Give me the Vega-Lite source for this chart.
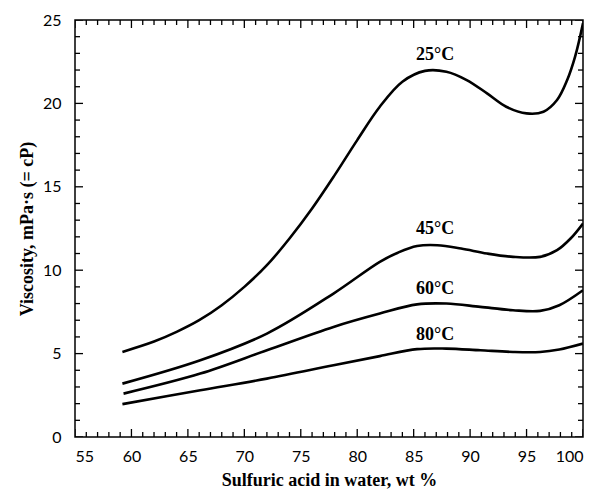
{
  "$schema": "https://vega.github.io/schema/vega-lite/v6.json",
  "width": 508,
  "height": 417,
  "autosize": {"type": "none"},
  "padding": {"left": 75, "top": 20, "right": 22, "bottom": 65},
  "background": "white",
  "config": {
    "view": {"stroke": "black", "strokeWidth": 1.5},
    "axis": {"domain": false, "ticks": false, "grid": false, "labelColor": "black", "titleColor": "black", "labelFont": "Lato", "titleFont": "Liberation Serif", "labelFontSize": 16, "titleFontSize": 18, "titleFontWeight": "bold"}
  },
  "datasets": {
    "curves": [
      {"temp": "25°C", "wt": 59.2, "visc": 5.1},
      {"temp": "25°C", "wt": 62.0, "visc": 5.72},
      {"temp": "25°C", "wt": 64.0, "visc": 6.3},
      {"temp": "25°C", "wt": 66.0, "visc": 7.0},
      {"temp": "25°C", "wt": 68.0, "visc": 7.9},
      {"temp": "25°C", "wt": 70.0, "visc": 9.0},
      {"temp": "25°C", "wt": 72.0, "visc": 10.3},
      {"temp": "25°C", "wt": 74.0, "visc": 11.9},
      {"temp": "25°C", "wt": 76.0, "visc": 13.7},
      {"temp": "25°C", "wt": 78.0, "visc": 15.7},
      {"temp": "25°C", "wt": 80.0, "visc": 17.8},
      {"temp": "25°C", "wt": 82.0, "visc": 19.8},
      {"temp": "25°C", "wt": 84.0, "visc": 21.3},
      {"temp": "25°C", "wt": 86.0, "visc": 21.95},
      {"temp": "25°C", "wt": 87.9, "visc": 21.9},
      {"temp": "25°C", "wt": 89.7, "visc": 21.4},
      {"temp": "25°C", "wt": 91.5, "visc": 20.6},
      {"temp": "25°C", "wt": 93.2, "visc": 19.8},
      {"temp": "25°C", "wt": 95.0, "visc": 19.4},
      {"temp": "25°C", "wt": 96.5, "visc": 19.5},
      {"temp": "25°C", "wt": 97.7, "visc": 20.2},
      {"temp": "25°C", "wt": 98.6, "visc": 21.4},
      {"temp": "25°C", "wt": 99.3, "visc": 22.8},
      {"temp": "25°C", "wt": 100.0, "visc": 24.8},
      {"temp": "45°C", "wt": 59.2, "visc": 3.2},
      {"temp": "45°C", "wt": 66.1, "visc": 4.6},
      {"temp": "45°C", "wt": 72.0, "visc": 6.2},
      {"temp": "45°C", "wt": 77.9, "visc": 8.6},
      {"temp": "45°C", "wt": 82.0, "visc": 10.5},
      {"temp": "45°C", "wt": 83.6, "visc": 11.05},
      {"temp": "45°C", "wt": 85.3, "visc": 11.45},
      {"temp": "45°C", "wt": 87.1, "visc": 11.5},
      {"temp": "45°C", "wt": 89.2, "visc": 11.3},
      {"temp": "45°C", "wt": 91.5, "visc": 11.0},
      {"temp": "45°C", "wt": 93.8, "visc": 10.8},
      {"temp": "45°C", "wt": 96.2, "visc": 10.8},
      {"temp": "45°C", "wt": 97.7, "visc": 11.2},
      {"temp": "45°C", "wt": 98.9, "visc": 11.9},
      {"temp": "45°C", "wt": 100.0, "visc": 12.8},
      {"temp": "60°C", "wt": 59.3, "visc": 2.6},
      {"temp": "60°C", "wt": 66.1, "visc": 3.8},
      {"temp": "60°C", "wt": 72.0, "visc": 5.2},
      {"temp": "60°C", "wt": 77.9, "visc": 6.6},
      {"temp": "60°C", "wt": 82.0, "visc": 7.4},
      {"temp": "60°C", "wt": 85.3, "visc": 7.95},
      {"temp": "60°C", "wt": 87.9, "visc": 8.0},
      {"temp": "60°C", "wt": 90.9, "visc": 7.8},
      {"temp": "60°C", "wt": 93.8, "visc": 7.6},
      {"temp": "60°C", "wt": 96.2, "visc": 7.56},
      {"temp": "60°C", "wt": 97.9, "visc": 7.9},
      {"temp": "60°C", "wt": 100.0, "visc": 8.8},
      {"temp": "80°C", "wt": 59.2, "visc": 1.97},
      {"temp": "80°C", "wt": 66.1, "visc": 2.8},
      {"temp": "80°C", "wt": 72.0, "visc": 3.5},
      {"temp": "80°C", "wt": 77.9, "visc": 4.3},
      {"temp": "80°C", "wt": 82.0, "visc": 4.85},
      {"temp": "80°C", "wt": 85.3, "visc": 5.27},
      {"temp": "80°C", "wt": 87.9, "visc": 5.3},
      {"temp": "80°C", "wt": 90.9, "visc": 5.2},
      {"temp": "80°C", "wt": 93.8, "visc": 5.1},
      {"temp": "80°C", "wt": 96.2, "visc": 5.1},
      {"temp": "80°C", "wt": 97.9, "visc": 5.25},
      {"temp": "80°C", "wt": 100.0, "visc": 5.6}
    ],
    "labels": [
      {"temp": "25°C", "wt": 86.9, "visc": 22.9},
      {"temp": "45°C", "wt": 86.9, "visc": 12.5},
      {"temp": "60°C", "wt": 86.9, "visc": 8.9},
      {"temp": "80°C", "wt": 86.9, "visc": 6.1}
    ],
    "xticks": [
      {"v": 55, "kind": "major"}, {"v": 56, "kind": "minor"}, {"v": 57, "kind": "minor"}, {"v": 58, "kind": "minor"}, {"v": 59, "kind": "minor"},
      {"v": 60, "kind": "major"}, {"v": 61, "kind": "minor"}, {"v": 62, "kind": "minor"}, {"v": 63, "kind": "minor"}, {"v": 64, "kind": "minor"},
      {"v": 65, "kind": "major"}, {"v": 66, "kind": "minor"}, {"v": 67, "kind": "minor"}, {"v": 68, "kind": "minor"}, {"v": 69, "kind": "minor"},
      {"v": 70, "kind": "major"}, {"v": 71, "kind": "minor"}, {"v": 72, "kind": "minor"}, {"v": 73, "kind": "minor"}, {"v": 74, "kind": "minor"},
      {"v": 75, "kind": "major"}, {"v": 76, "kind": "minor"}, {"v": 77, "kind": "minor"}, {"v": 78, "kind": "minor"}, {"v": 79, "kind": "minor"},
      {"v": 80, "kind": "major"}, {"v": 81, "kind": "minor"}, {"v": 82, "kind": "minor"}, {"v": 83, "kind": "minor"}, {"v": 84, "kind": "minor"},
      {"v": 85, "kind": "major"}, {"v": 86, "kind": "minor"}, {"v": 87, "kind": "minor"}, {"v": 88, "kind": "minor"}, {"v": 89, "kind": "minor"},
      {"v": 90, "kind": "major"}, {"v": 91, "kind": "minor"}, {"v": 92, "kind": "minor"}, {"v": 93, "kind": "minor"}, {"v": 94, "kind": "minor"},
      {"v": 95, "kind": "major"}, {"v": 96, "kind": "minor"}, {"v": 97, "kind": "minor"}, {"v": 98, "kind": "minor"}, {"v": 99, "kind": "minor"},
      {"v": 100, "kind": "major"}
    ],
    "yticks": [
      {"v": 0, "kind": "major"}, {"v": 1, "kind": "minor"}, {"v": 2, "kind": "minor"}, {"v": 3, "kind": "minor"}, {"v": 4, "kind": "minor"},
      {"v": 5, "kind": "major"}, {"v": 6, "kind": "minor"}, {"v": 7, "kind": "minor"}, {"v": 8, "kind": "minor"}, {"v": 9, "kind": "minor"},
      {"v": 10, "kind": "major"}, {"v": 11, "kind": "minor"}, {"v": 12, "kind": "minor"}, {"v": 13, "kind": "minor"}, {"v": 14, "kind": "minor"},
      {"v": 15, "kind": "major"}, {"v": 16, "kind": "minor"}, {"v": 17, "kind": "minor"}, {"v": 18, "kind": "minor"}, {"v": 19, "kind": "minor"},
      {"v": 20, "kind": "major"}, {"v": 21, "kind": "minor"}, {"v": 22, "kind": "minor"}, {"v": 23, "kind": "minor"}, {"v": 24, "kind": "minor"},
      {"v": 25, "kind": "major"}
    ]
  },
  "layer": [
    {
      "data": {"name": "curves"},
      "mark": {"type": "line", "interpolate": "catmull-rom", "color": "black", "strokeWidth": 2.6, "clip": true},
      "encoding": {
        "x": {"field": "wt", "type": "quantitative", "scale": {"domain": [55, 100], "nice": false, "zero": false},
          "axis": {"orient": "bottom", "title": "Sulfuric acid in water, wt %", "values": [55, 60, 65, 70, 75, 80, 85, 90, 95, 100], "labelPadding": 11, "titlePadding": 7}},
        "y": {"field": "visc", "type": "quantitative", "scale": {"domain": [0, 25], "nice": false},
          "axis": {"orient": "left", "title": "Viscosity, mPa·s (= cP)", "values": [0, 5, 10, 15, 20, 25], "labelPadding": 14, "titlePadding": 6}},
        "detail": {"field": "temp"}
      }
    },
    {
      "data": {"name": "labels"},
      "mark": {"type": "text", "font": "Liberation Serif", "fontSize": 18, "fontWeight": "bold", "color": "black"},
      "encoding": {
        "x": {"field": "wt", "type": "quantitative"},
        "y": {"field": "visc", "type": "quantitative"},
        "text": {"field": "temp"}
      }
    },
    {
      "data": {"name": "xticks"},
      "mark": {"type": "tick", "orient": "vertical", "clip": true, "thickness": 1.3, "color": "black", "opacity": 1},
      "encoding": {
        "x": {"field": "v", "type": "quantitative"},
        "y": {"datum": 0},
        "size": {"field": "kind", "type": "nominal", "scale": {"domain": ["major", "minor"], "range": [16, 10]}, "legend": null}
      }
    },
    {
      "data": {"name": "xticks"},
      "mark": {"type": "tick", "orient": "vertical", "clip": true, "thickness": 1.3, "color": "black", "opacity": 1},
      "encoding": {
        "x": {"field": "v", "type": "quantitative"},
        "y": {"datum": 25},
        "size": {"field": "kind", "type": "nominal", "scale": {"domain": ["major", "minor"], "range": [16, 10]}, "legend": null}
      }
    },
    {
      "data": {"name": "yticks"},
      "mark": {"type": "tick", "orient": "horizontal", "clip": true, "thickness": 1.3, "color": "black", "opacity": 1},
      "encoding": {
        "y": {"field": "v", "type": "quantitative"},
        "x": {"datum": 55},
        "size": {"field": "kind", "type": "nominal", "scale": {"domain": ["major", "minor"], "range": [16, 10]}, "legend": null}
      }
    },
    {
      "data": {"name": "yticks"},
      "mark": {"type": "tick", "orient": "horizontal", "clip": true, "thickness": 1.3, "color": "black", "opacity": 1},
      "encoding": {
        "y": {"field": "v", "type": "quantitative"},
        "x": {"datum": 100},
        "size": {"field": "kind", "type": "nominal", "scale": {"domain": ["major", "minor"], "range": [16, 10]}, "legend": null}
      }
    }
  ]
}
